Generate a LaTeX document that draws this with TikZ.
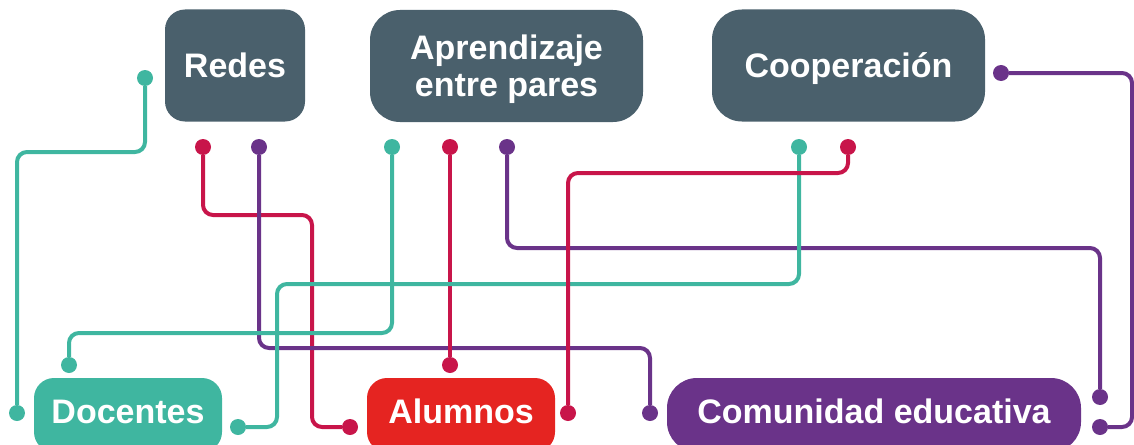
\documentclass[tikz,border=0pt]{standalone}
\usepackage{fontspec}
\setmainfont{Liberation Sans}
\definecolor{slate}{HTML}{4A606C}
\definecolor{tealc}{HTML}{3FB6A0}
\definecolor{crim}{HTML}{C8154A}
\definecolor{redbox}{HTML}{E52421}
\definecolor{purp}{HTML}{6A3389}
\begin{document}
\begin{tikzpicture}[x=1pt,y=-1pt,
box/.style={rounded corners=20pt, text=white, font=\fontsize{34}{37}\selectfont\bfseries, align=center, text height=24pt, text depth=0pt, inner sep=0pt},
dot/.style={circle, fill, inner sep=0pt, minimum size=16pt},
wire/.style={line width=4pt, rounded corners=10pt}]
\clip (0,0) rectangle (1134,444);
\node[box, fill=slate, minimum width=140pt, minimum height=112pt] (redes) at (235,65.5){Redes};
\node[box, fill=slate, rounded corners=30pt, minimum width=273pt, minimum height=112pt, text height=61pt] (apr) at (506.5,66){Aprendizaje\\entre pares};
\node[box, fill=slate, rounded corners=30pt, minimum width=273pt, minimum height=112pt] (coop) at (848.5,65.5){Cooperación};
\node[box, fill=tealc, minimum width=188pt, minimum height=74pt, text depth=7pt] (doc) at (128,415){Docentes};
\node[box, fill=redbox, minimum width=188pt, minimum height=74pt, text depth=7pt] (alu) at (461,415){Alumnos};
\node[box, fill=purp, rounded corners=30pt, minimum width=414pt, minimum height=74pt, text depth=7pt] (com) at (874,415){Comunidad educativa};
\node[dot, tealc] (t1) at (145,78){};
\node[dot, tealc] (t2) at (17,413){};
\node[dot, crim] (r1) at (203,147){};
\node[dot, crim] (r2) at (350,427){};
\node[dot, purp] (p1) at (259,147){};
\node[dot, purp] (p2) at (650,413){};
\node[dot, tealc] (t3) at (392,147){};
\node[dot, tealc] (t4) at (69,365){};
\node[dot, crim] (r3) at (450,147){};
\node[dot, crim] (r4) at (450,365){};
\node[dot, purp] (p3) at (507,147){};
\node[dot, purp] (p4) at (1100,397){};
\node[dot, tealc] (t5) at (799,147){};
\node[dot, tealc] (t6) at (238,427){};
\node[dot, crim] (r5) at (848,147){};
\node[dot, crim] (r6) at (568,413){};
\node[dot, purp] (p5) at (1001,73){};
\node[dot, purp] (p6) at (1100,427){};
\draw[wire, tealc](t1) |- (17,152) -- (t2);
\draw[wire, crim](r1) |- (312,215) |- (r2);
\draw[wire, purp](p1) |- (650,348) -- (p2);
\draw[wire, tealc](t3) |- (69,333) -- (t4);
\draw[wire, crim](r3) -- (r4);
\draw[wire, purp](p3) |- (1100,248) -- (p4);
\draw[wire, tealc](t5) |- (277,284) |- (t6);
\draw[wire, crim](r5) |- (568,173) -- (r6);
\draw[wire, purp](p5) -| (1132,427) -- (p6);
\end{tikzpicture}
\end{document}
